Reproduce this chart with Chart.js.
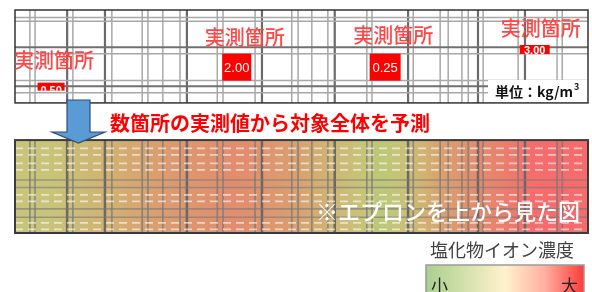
<!doctype html>
<html lang="ja">
<head>
<meta charset="utf-8">
<title>塩化物イオン濃度</title>
<script src="https://cdn.jsdelivr.net/npm/chart.js@4.4.1/dist/chart.umd.min.js"></script>
<style>
  html, body { margin: 0; padding: 0; background: #fff; }
  canvas { display: block; }
</style>
</head>
<body>
<canvas id="slab" width="592" height="292"></canvas>
<script>
// 実測箇所: position along the apron (0-100) and across it (0-10 from the lower edge)
var measX = [6.3, 38.7, 64.6, 90.7];
var measY = [1.75, 3.85, 3.85, 5.75];
var measVal = [0.50, 2.00, 0.25, 3.00];
var measLabels = ['0.50', '2.00', '0.25', '3.00'];

// rebar positions
var mainBarsX = [9.1, 15.7, 30.0, 43.1, 55.8, 68.6, 80.8, 89.0];
var subBarsX = [2.6, 3.5, 10.1, 16.9, 22.2, 23.2, 25.8, 28.8, 35.3, 36.3, 41.9, 48.3, 49.4,
                51.8, 54.6, 61.4, 62.3, 69.5, 74.2, 75.6, 78.0, 79.1, 81.7, 87.8, 94.6, 95.5];
var topMainY = [6.0, 1.8];
var topSubY = [9.2, 8.8, 5.3, 2.4, 1.1];
var lowBarsY = [5.7, 4.9, 2.6, 1.7];
var lowDashY = [9.1, 8.4, 7.5, 6.8, 4.1, 3.4, 1.1, 0.4];

var TOP0 = 14; // lower edge of the upper drawing

var datasets = [];
function seg(x1, y1, x2, y2, color, w, dash) {
  datasets.push({
    type: 'line', showLine: true,
    data: [{x: x1, y: y1}, {x: x2, y: y2}],
    borderColor: color, borderWidth: w, borderDash: dash || [],
    pointRadius: 0, fill: false, tension: 0
  });
}
// white dashes on the heat band
lowDashY.forEach(function (v) { seg(0, v, 100, v, 'rgba(255,255,255,0.6)', 1.8, [8, 5]); });
lowBarsY.forEach(function (v) { seg(0, v, 100, v, 'rgba(120,120,120,0.6)', 1.6); });
topSubY.forEach(function (v) { seg(0, TOP0 + v, 100, TOP0 + v, '#a8a8a8', 1.5); });
topMainY.forEach(function (v) { seg(0, TOP0 + v, 100, TOP0 + v, '#707070', 2); });
subBarsX.forEach(function (v) {
  seg(v, TOP0, v, TOP0 + 10, '#a8a8a8', 1.5);
  seg(v, 0, v, 10, 'rgba(120,120,120,0.75)', 1.7);
});
mainBarsX.forEach(function (v) {
  seg(v, TOP0, v, TOP0 + 10, '#6a6a6a', 2.2);
  seg(v, 0, v, 10, 'rgba(100,100,100,0.95)', 2.5);
});

// colour of the heat band for a concentration
var colorStops = [
  [0.25, [186, 200, 120]],
  [0.5, [200, 196, 122]],
  [1.0, [210, 176, 114]],
  [1.4, [219, 156, 112]],
  [2.0, [226, 140, 110]],
  [3.0, [246, 108, 108]]
];
function valueToColor(v) {
  if (v <= colorStops[0][0]) return 'rgb(' + colorStops[0][1].join(',') + ')';
  for (var i = 1; i < colorStops.length; i++) {
    if (v <= colorStops[i][0]) {
      var a = colorStops[i - 1], b = colorStops[i];
      var t = (v - a[0]) / (b[0] - a[0]);
      var c = a[1].map(function (q, k) { return Math.round(q + (b[1][k] - q) * t); });
      return 'rgb(' + c.join(',') + ')';
    }
  }
  return 'rgb(' + colorStops[colorStops.length - 1][1].join(',') + ')';
}
function valueAt(p) {
  if (p <= measX[0]) return measVal[0];
  for (var i = 1; i < measX.length; i++) {
    if (p <= measX[i]) {
      var t = (p - measX[i - 1]) / (measX[i] - measX[i - 1]);
      return measVal[i - 1] + (measVal[i] - measVal[i - 1]) * t;
    }
  }
  return measVal[measVal.length - 1];
}

var JP = '"Noto Sans CJK JP", "Noto Sans", sans-serif';
var boxW = [27, 29, 31, 30], boxH = [8, 27, 27, 9];
var textDx = [3, 8, 8, 6], textDy = [-22, -16, -18, -17];

var slabPlugin = {
  id: 'slab',
  beforeDatasetsDraw: function (chart) {
    var ctx = chart.ctx, sx = chart.scales.x, sy = chart.scales.y;
    var l = sx.getPixelForValue(0), r = sx.getPixelForValue(100);
    var g = ctx.createLinearGradient(l, 0, r, 0);
    for (var i = 0; i <= 50; i++) g.addColorStop(i / 50, valueToColor(valueAt(i * 2)));
    ctx.save();
    ctx.fillStyle = g;
    var t = sy.getPixelForValue(10), b = sy.getPixelForValue(0);
    ctx.fillRect(l, t, r - l, b - t);
    ctx.restore();
  },
  afterDatasetsDraw: function (chart) {
    var ctx = chart.ctx, sx = chart.scales.x, sy = chart.scales.y;
    var l = sx.getPixelForValue(0), r = sx.getPixelForValue(100);
    var tt = sy.getPixelForValue(TOP0 + 10), tb = sy.getPixelForValue(TOP0);
    var bt = sy.getPixelForValue(10), bb = sy.getPixelForValue(0);
    ctx.save();

    // unit box
    ctx.fillStyle = '#fff';
    ctx.fillRect(488, 80, r - 488, tb - 80);
    ctx.fillStyle = '#111';
    ctx.font = 'bold 14px ' + JP;
    ctx.textBaseline = 'middle';
    ctx.textAlign = 'left';
    ctx.fillText('単位：kg/m', 495, 92);
    var w = ctx.measureText('単位：kg/m').width;
    ctx.font = 'bold 9px ' + JP;
    ctx.fillText('3', 495 + w + 1, 87);

    // borders
    ctx.strokeStyle = '#333';
    ctx.lineWidth = 1.5;
    ctx.strokeRect(l, tt, r - l, tb - tt);
    ctx.strokeStyle = '#3c3c3c';
    ctx.lineWidth = 2;
    ctx.strokeRect(l, bt, r - l, bb - bt);

    // measured points
    for (var i = 0; i < measX.length; i++) {
      var px = sx.getPixelForValue(measX[i]);
      var py = sy.getPixelForValue(TOP0 + measY[i]);
      var bx = px - boxW[i] / 2, by = py - boxH[i] / 2;
      ctx.fillStyle = '#ff0000';
      ctx.fillRect(bx, by, boxW[i], boxH[i]);
      ctx.save();
      ctx.beginPath();
      ctx.rect(bx, by, boxW[i], boxH[i]);
      ctx.clip();
      ctx.fillStyle = '#fff';
      ctx.textAlign = 'center';
      if (boxH[i] > 15) {
        ctx.font = '13px "Liberation Sans", Arial, sans-serif';
        ctx.textBaseline = 'middle';
        ctx.fillText(measLabels[i], px, py + 1);
      } else {
        ctx.font = 'bold 11px "Liberation Sans", Arial, sans-serif';
        ctx.textBaseline = 'alphabetic';
        ctx.fillText(measLabels[i], px, by + (i === 0 ? 11 : 9));
      }
      ctx.restore();
      ctx.fillStyle = '#ff4646';
      ctx.font = '500 20px ' + JP;
      ctx.textAlign = 'center';
      ctx.textBaseline = 'middle';
      ctx.fillText('実測箇所', px + textDx[i], by + textDy[i]);
    }

    // arrow
    ctx.beginPath();
    ctx.moveTo(67, 100); ctx.lineTo(90, 100); ctx.lineTo(90, 132); ctx.lineTo(105, 132);
    ctx.lineTo(78.5, 143); ctx.lineTo(52, 132); ctx.lineTo(67, 132); ctx.closePath();
    ctx.fillStyle = '#5b9bd5';
    ctx.fill();
    ctx.strokeStyle = '#2f4f78';
    ctx.lineWidth = 1.2;
    ctx.stroke();

    // captions
    ctx.textAlign = 'left';
    ctx.textBaseline = 'middle';
    ctx.fillStyle = '#ff0000';
    ctx.font = 'bold 20px ' + JP;
    ctx.fillText('数箇所の実測値から対象全体を予測', 110, 123);
    ctx.fillStyle = '#ffffff';
    ctx.font = '500 22px ' + JP;
    ctx.fillText('※エプロンを上から見た図', 316, 212);

    // colour key
    ctx.fillStyle = '#404040';
    ctx.font = '18px ' + JP;
    ctx.fillText('塩化物イオン濃度', 430, 250);
    var kg = ctx.createLinearGradient(426, 0, 584, 0);
    kg.addColorStop(0, '#a9d08e');
    kg.addColorStop(0.5, '#fff2cc');
    kg.addColorStop(0.75, '#ffb0a0');
    kg.addColorStop(1, '#ff3a3a');
    ctx.fillStyle = kg;
    ctx.fillRect(426, 265, 158, 40);
    ctx.strokeStyle = '#9a9a9a';
    ctx.lineWidth = 1.5;
    ctx.strokeRect(426, 265, 158, 40);
    ctx.fillStyle = '#222';
    ctx.font = '17px ' + JP;
    ctx.textBaseline = 'alphabetic';
    ctx.fillText('小', 431, 292);
    ctx.textAlign = 'right';
    ctx.fillText('大', 578, 292);

    ctx.restore();
  }
};

new Chart(document.getElementById('slab').getContext('2d'), {
  type: 'scatter',
  data: { datasets: datasets },
  options: {
    responsive: false,
    animation: false,
    events: [],
    layout: { padding: { left: 15, right: 4, top: 10, bottom: 59 } },
    plugins: { legend: { display: false }, tooltip: { enabled: false } },
    scales: {
      x: { type: 'linear', min: 0, max: 100, display: false },
      y: { type: 'linear', min: 0, max: 24, display: false }
    }
  },
  plugins: [slabPlugin]
});
</script>
</body>
</html>
